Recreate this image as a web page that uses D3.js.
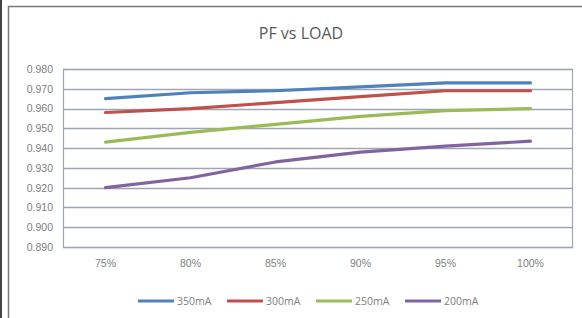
<!DOCTYPE html>
<html>
<head>
<meta charset="utf-8">
<script src="https://cdn.jsdelivr.net/npm/d3@7"></script>
<style>
  html, body { margin: 0; padding: 0; background: #fff; }
  svg { display: block; font-family: 'Open Sans', 'Liberation Sans', sans-serif; }
</style>
</head>
<body>
<div id="chart"></div>
<script>
// data
const categories = ['75%', '80%', '85%', '90%', '95%', '100%'];
const seriesNames = ['350mA', '300mA', '250mA', '200mA'];
const s350 = [0.965, 0.968, 0.969, 0.971, 0.973, 0.973];
const s300 = [0.958, 0.960, 0.963, 0.966, 0.969, 0.969];
const s250 = [0.943, 0.948, 0.952, 0.956, 0.959, 0.960];
const s200 = [0.920, 0.925, 0.933, 0.938, 0.941, 0.9435];
const yTicks = [0.890, 0.900, 0.910, 0.920, 0.930, 0.940, 0.950, 0.960, 0.970, 0.980];
const colors = ['#4f81bd', '#c0504d', '#9bbb59', '#8064a2'];

const W = 582, H = 318;
const margin = { LEFT: 63, RIGHT: 9, TOP: 69, BOTTOM: 71 };
const WIDTH = W - margin.LEFT - margin.RIGHT;
const HEIGHT = H - margin.TOP - margin.BOTTOM;

const svg = d3.select('#chart').append('svg')
  .attr('width', W)
  .attr('height', H);

// outer frame (only left and top visible in the crop)
svg.append('line').attr('x1', 1).attr('x2', 1).attr('y1', 0).attr('y2', H)
  .attr('stroke', '#444').attr('stroke-width', 2);
svg.append('path')
  .attr('d', `M8.5,${H} V6.5 H${W}`)
  .attr('fill', 'none').attr('stroke', '#777').attr('stroke-width', 1.5);

svg.append('text')
  .attr('x', 301).attr('y', 39)
  .attr('text-anchor', 'middle')
  .attr('font-size', '16px')
  .attr('fill', '#595959')
  .text('PF vs LOAD');

const g = svg.append('g')
  .attr('transform', `translate(${margin.LEFT}, ${margin.TOP})`);

// scales
const x = d3.scaleBand().domain(categories).range([0, WIDTH]);
const y = d3.scaleLinear().domain([0.890, 0.980]).range([HEIGHT, 0]);

// gridlines
g.append('g')
  .selectAll('line')
  .data(yTicks)
  .join('line')
  .attr('x1', 0).attr('x2', WIDTH)
  .attr('y1', d => Math.round(y(d)) + 0.5).attr('y2', d => Math.round(y(d)) + 0.5)
  .attr('stroke', '#9ea6b2').attr('stroke-width', 1.5);

g.append('rect')
  .attr('x', 0.5).attr('y', 0.5)
  .attr('width', WIDTH - 1).attr('height', HEIGHT)
  .attr('fill', 'none').attr('stroke', '#9ea6b2').attr('stroke-width', 1.2);

// axes
const yAxis = g.append('g')
  .call(d3.axisLeft(y).tickValues(yTicks).tickFormat(d3.format('.3f')).tickSize(0).tickPadding(10));
yAxis.select('.domain').remove();
yAxis.selectAll('text').attr('font-size', '10.5px').attr('fill', '#808080');

const xAxis = g.append('g')
  .attr('transform', `translate(0, ${HEIGHT})`)
  .call(d3.axisBottom(x).tickSize(0).tickPadding(13));
xAxis.select('.domain').remove();
xAxis.selectAll('text').attr('font-size', '10.5px').attr('fill', '#808080');

// lines
const allSeries = [s350, s300, s250, s200];
const line = d3.line()
  .x((d, i) => x(categories[i]) + x.bandwidth() / 2)
  .y(d => y(d));

g.selectAll('.series')
  .data(allSeries)
  .join('path')
  .attr('class', 'series')
  .attr('d', d => line(d))
  .attr('fill', 'none')
  .attr('stroke', (d, i) => colors[i])
  .attr('stroke-width', 3.2)
  .attr('stroke-linejoin', 'round')
  .attr('stroke-linecap', 'round');

// legend
const legend = svg.append('g').attr('transform', 'translate(138, 301)');
const item = legend.selectAll('g')
  .data(seriesNames)
  .join('g')
  .attr('transform', (d, i) => `translate(${i * 89}, 0)`);
item.append('line')
  .attr('x1', 0).attr('x2', 36).attr('y1', 0).attr('y2', 0)
  .attr('stroke', (d, i) => colors[i]).attr('stroke-width', 3);
item.append('text')
  .attr('x', 39).attr('y', 4)
  .attr('font-size', '10.5px').attr('fill', '#808080')
  .text(d => d);
</script>
</body>
</html>
